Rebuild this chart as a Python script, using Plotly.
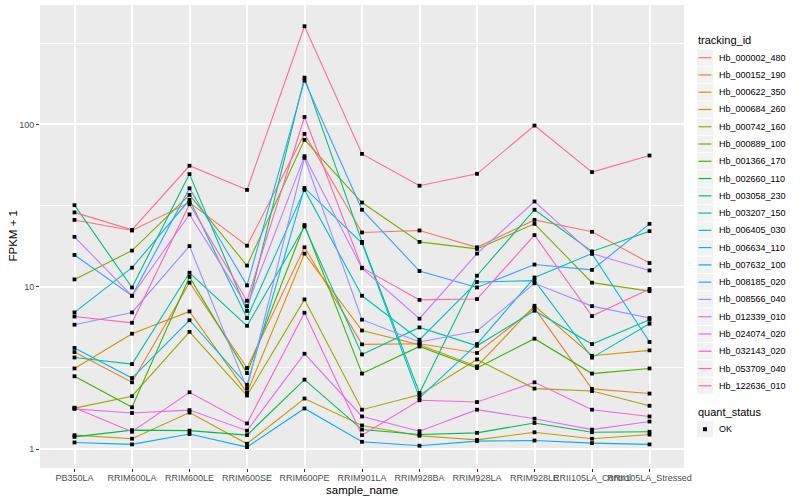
import plotly.graph_objects as go

samples = ["PB350LA", "RRIM600LA", "RRIM600LE", "RRIM600SE", "RRIM600PE", "RRIM901LA",
           "RRIM928BA", "RRIM928LA", "RRIM928LE", "RRII105LA_Control", "RRII105LA_Stressed"]

tracking_ids = ["Hb_000002_480", "Hb_000152_190", "Hb_000622_350", "Hb_000684_260", "Hb_000742_160",
                "Hb_000889_100", "Hb_001366_170", "Hb_002660_110", "Hb_003058_230", "Hb_003207_150",
                "Hb_006405_030", "Hb_006634_110", "Hb_007632_100", "Hb_008185_020", "Hb_008566_040",
                "Hb_012339_010", "Hb_024074_020", "Hb_032143_020", "Hb_053709_040", "Hb_122636_010"]

colors = ["#F8766D", "#EA8331", "#D89000", "#C09B00", "#A3A500", "#7CAE00", "#39B600", "#00BB4E",
          "#00BF7D", "#00C1A3", "#00BFC4", "#00BAE0", "#00B0F6", "#35A2FF", "#9590FF", "#C77CFF",
          "#E76BF3", "#FA62DB", "#FF62BC", "#FF6C91"]

hb_000002_480 = [25.8, 22.2, 33.0, 17.9, 87.4, 21.6, 22.2, 17.5, 25.8, 21.8, 14.0]
hb_000152_190 = [3.96, 2.58, 10.6, 3.16, 17.5, 4.42, 4.46, 3.91, 7.39, 2.35, 2.20]
hb_000622_350 = [3.14, 5.14, 7.05, 2.23, 16.0, 5.38, 4.40, 3.23, 7.64, 3.76, 4.06]
hb_000684_260 = [1.22, 1.16, 1.68, 1.08, 2.05, 1.40, 1.21, 1.14, 1.27, 1.16, 1.23]
hb_000742_160 = [1.79, 2.12, 5.28, 2.14, 8.36, 1.75, 2.16, 3.57, 2.36, 2.28, 1.85]
hb_000889_100 = [11.1, 16.7, 36.8, 13.5, 80.3, 33.0, 18.9, 17.1, 24.4, 10.6, 9.4]
hb_001366_170 = [2.81, 1.81, 11.5, 2.94, 24.0, 2.92, 4.29, 3.16, 4.79, 2.92, 3.14]
hb_002660_110 = [1.19, 1.31, 1.30, 1.22, 2.68, 1.32, 1.23, 1.26, 1.45, 1.27, 1.28]
hb_003058_230 = [31.8, 9.9, 49.4, 7.1, 194.0, 18.9, 2.22, 11.7, 29.8, 16.5, 22.0]
hb_003207_150 = [3.67, 3.34, 12.2, 5.75, 23.5, 3.83, 5.62, 4.33, 7.12, 4.44, 6.27]
hb_006405_030 = [6.95, 13.1, 34.3, 6.42, 39.5, 8.8, 4.72, 10.7, 10.9, 3.66, 5.92]
hb_006634_110 = [4.2, 2.74, 6.22, 2.49, 40.6, 18.6, 2.07, 4.44, 11.4, 16.0, 4.57]
hb_007632_100 = [1.10, 1.07, 1.24, 1.03, 1.78, 1.11, 1.05, 1.12, 1.13, 1.09, 1.07]
hb_008185_020 = [15.7, 8.8, 40.4, 10.2, 186.0, 29.8, 12.5, 9.9, 13.7, 12.7, 24.4]
hb_008566_040 = [5.84, 6.95, 17.8, 2.36, 62.2, 6.27, 4.57, 5.34, 10.5, 7.6, 6.42]
hb_012339_010 = [20.3, 8.8, 27.9, 7.6, 63.7, 13.0, 6.36, 16.0, 33.5, 16.0, 12.6]
hb_024074_020 = [1.77, 1.67, 1.74, 1.30, 3.87, 1.59, 1.29, 1.75, 1.54, 1.32, 1.48]
hb_032143_020 = [1.80, 1.28, 2.24, 1.44, 6.92, 1.22, 2.0, 1.95, 2.58, 1.75, 1.59]
hb_053709_040 = [6.56, 6.0, 32.2, 8.2, 111.0, 13.1, 8.3, 8.4, 20.8, 6.6, 9.7]
hb_122636_010 = [28.7, 22.4, 55.6, 39.5, 402.0, 65.8, 41.9, 49.6, 98.3, 50.8, 64.3]

series = [hb_000002_480, hb_000152_190, hb_000622_350, hb_000684_260, hb_000742_160,
          hb_000889_100, hb_001366_170, hb_002660_110, hb_003058_230, hb_003207_150,
          hb_006405_030, hb_006634_110, hb_007632_100, hb_008185_020, hb_008566_040,
          hb_012339_010, hb_024074_020, hb_032143_020, hb_053709_040, hb_122636_010]

y_major = [1, 10, 100]
y_minor = [3.1623, 31.623, 316.23]

W, H = 800, 500
L, R, T, B = 40, 116, 5, 31.7
pw, ph = W - L - R, H - T - B

def px(x):
    return (x - L) / pw

def py(y):
    return (H - B - y) / ph

FONT = "Liberation Sans, Arial, Helvetica, sans-serif"

fig = go.Figure()
for name, col, vals in zip(tracking_ids, colors, series):
    fig.add_trace(go.Scatter(x=samples, y=vals, mode="lines", name=name,
                             line=dict(color=col, width=1.1), showlegend=False,
                             hoverinfo="skip"))
for name, vals in zip(tracking_ids, series):
    fig.add_trace(go.Scatter(x=samples, y=vals, mode="markers", name=name,
                             marker=dict(symbol="square", size=3.8, color="black"),
                             showlegend=False))

shapes = []
annotations = []
# legend: tracking_id
annotations.append(dict(text="tracking_id", x=px(696), y=py(40.5), xref="paper", yref="paper",
                        xanchor="left", yanchor="middle", showarrow=False,
                        font=dict(family=FONT, size=11, color="black")))
step = 17.28
for i, (name, col) in enumerate(zip(tracking_ids, colors)):
    cy = 57.7 + step * i
    shapes.append(dict(type="rect", xref="paper", yref="paper", x0=px(697), x1=px(713),
                       y0=py(cy - 8.1), y1=py(cy + 8.1), fillcolor="#F2F2F2", line=dict(width=0),
                       layer="below"))
    shapes.append(dict(type="line", xref="paper", yref="paper", x0=px(698.5), x1=px(711.5),
                       y0=py(cy), y1=py(cy), line=dict(color=col, width=1.2)))
    annotations.append(dict(text=name, x=px(716.5), y=py(cy), xref="paper", yref="paper",
                            xanchor="left", yanchor="middle", showarrow=False,
                            font=dict(family=FONT, size=9, color="black")))
# legend: quant_status
annotations.append(dict(text="quant_status", x=px(696), y=py(412), xref="paper", yref="paper",
                        xanchor="left", yanchor="middle", showarrow=False,
                        font=dict(family=FONT, size=11, color="black")))
ok_y = 429.5
shapes.append(dict(type="rect", xref="paper", yref="paper", x0=px(697), x1=px(713),
                   y0=py(ok_y - 8.1), y1=py(ok_y + 8.1), fillcolor="#F2F2F2", line=dict(width=0)))
shapes.append(dict(type="rect", xref="paper", yref="paper", x0=px(703), x1=px(707),
                   y0=py(ok_y - 2), y1=py(ok_y + 2), fillcolor="black", line=dict(width=0)))
annotations.append(dict(text="OK", x=px(716.5), y=py(ok_y), xref="paper", yref="paper",
                        xanchor="left", yanchor="middle", showarrow=False,
                        font=dict(family=FONT, size=9, color="black")))
# axis titles
annotations.append(dict(text="sample_name", x=0.5, y=py(490), xref="paper", yref="paper",
                        xanchor="center", yanchor="middle", showarrow=False,
                        font=dict(family=FONT, size=11.5, color="black")))
annotations.append(dict(text="FPKM + 1", x=px(12), y=0.5, xref="paper", yref="paper",
                        xanchor="center", yanchor="middle", showarrow=False, textangle=-90,
                        font=dict(family=FONT, size=11.5, color="black")))

fig.update_layout(
    width=W, height=H,
    margin=dict(l=L, r=R, t=T, b=B, pad=0, autoexpand=False),
    paper_bgcolor="white", plot_bgcolor="#EBEBEB",
    font=dict(family=FONT, size=9, color="#4D4D4D"),
    shapes=shapes, annotations=annotations,
    showlegend=False,
    xaxis=dict(type="category", categoryorder="array", categoryarray=samples,
               range=[-0.6, len(samples) - 0.4], showgrid=True, gridcolor="white", gridwidth=1.5,
               zeroline=False, showline=False, ticks="outside", ticklen=3, tickcolor="#333333",
               tickwidth=1, tickangle=0, ticklabelstandoff=-2,
               tickfont=dict(family=FONT, size=9, color="#4D4D4D"),
               automargin=False, fixedrange=True),
    yaxis=dict(type="log", range=[-0.116, 2.735], tickmode="array", tickvals=y_major,
               ticktext=[str(v) for v in y_major], showgrid=True, gridcolor="white", gridwidth=1.5,
               minor=dict(tickmode="array", tickvals=y_minor, showgrid=True, gridcolor="white",
                          gridwidth=0.7, ticks=""),
               zeroline=False, showline=False, ticks="outside", ticklen=3, tickcolor="#333333",
               tickwidth=1, tickfont=dict(family=FONT, size=9, color="#4D4D4D"),
               automargin=False, fixedrange=True),
)

fig.write_html("out.html", config={"displayModeBar": False},
               post_script="document.body.style.margin='0px';document.body.style.overflow='hidden';")
